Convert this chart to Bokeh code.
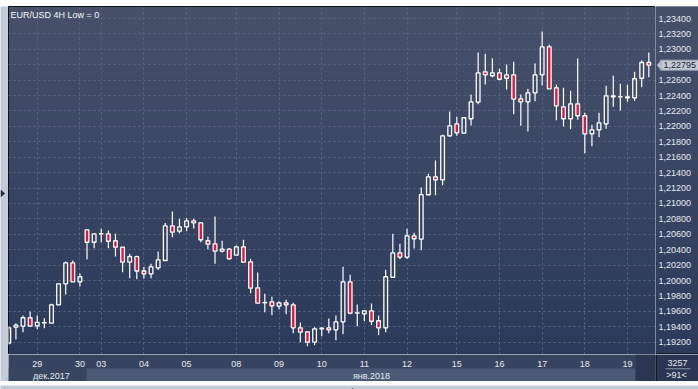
import numpy as np
from bokeh.plotting import figure
from bokeh.layouts import column, row
from bokeh.models import Range1d, FixedTicker, Grid, ColumnDataSource, Label, Span
from bokeh.core.properties import value
from bokeh.embed import file_html
from bokeh.resources import INLINE

# ---------------- data ----------------
title_text = "EUR/USD 4H Low = 0"

opens = [1.19187, 1.19395, 1.19408, 1.19517, 1.19413, 1.19450, 1.19447, 1.19685, 1.19958, 1.20230,
         1.19984, 1.20658, 1.20497, 1.20606, 1.20606, 1.20516, 1.20433, 1.20238, 1.20310, 1.20124,
         1.20087, 1.20165, 1.20260, 1.20710, 1.20640, 1.20697, 1.20775, 1.20749, 1.20516, 1.20477,
         1.20381, 1.20407, 1.20329, 1.20438, 1.20243, 1.19906, 1.19715, 1.19724, 1.19667, 1.19711,
         1.19685, 1.19387, 1.19335, 1.19200, 1.19374, 1.19387, 1.19361, 1.19465, 1.19984, 1.19576,
         1.19568, 1.19607, 1.19478, 1.19387, 1.20043, 1.20360, 1.20303, 1.20580, 1.20538, 1.21113,
         1.21346, 1.21307, 1.21878, 1.22034, 1.21912, 1.22099, 1.22314, 1.22708, 1.22657, 1.22695,
         1.22625, 1.22669, 1.22358, 1.22319, 1.22436, 1.22669, 1.23033, 1.22501, 1.22254, 1.22099,
         1.22293, 1.22138, 1.21904, 1.21956, 1.22034, 1.22384, 1.22384, 1.22371, 1.22371, 1.22625,
         1.22829]
highs = [1.19404, 1.19447, 1.19546, 1.19598, 1.19546, 1.19511, 1.19698, 1.19962, 1.20247, 1.20260,
         1.20091, 1.20660, 1.20610, 1.20671, 1.20649, 1.20606, 1.20435, 1.20347, 1.20321, 1.20176,
         1.20217, 1.20377, 1.20747, 1.20896, 1.20801, 1.20808, 1.20801, 1.20752, 1.20571, 1.20831,
         1.20516, 1.20420, 1.20455, 1.20529, 1.20282, 1.20104, 1.19828, 1.19789, 1.19732, 1.19750,
         1.19711, 1.19456, 1.19340, 1.19395, 1.19395, 1.19507, 1.19546, 1.20178, 1.20074, 1.19689,
         1.19610, 1.19702, 1.19546, 1.20139, 1.20606, 1.20477, 1.20671, 1.20619, 1.21207, 1.21385,
         1.21558, 1.21891, 1.22193, 1.22125, 1.22115, 1.22414, 1.22959, 1.22942, 1.22885, 1.22747,
         1.22803, 1.22838, 1.22414, 1.22488, 1.22816, 1.23231, 1.23059, 1.22540, 1.22501, 1.22462,
         1.22881, 1.22176, 1.22021, 1.22176, 1.22527, 1.22657, 1.22553, 1.22540, 1.22708, 1.22859,
         1.22959]
lows = [1.19170, 1.19235, 1.19330, 1.19400, 1.19369, 1.19382, 1.19445, 1.19682, 1.19819, 1.19982,
        1.19923, 1.20273, 1.20420, 1.20497, 1.20420, 1.20312, 1.20108, 1.20030, 1.20016, 1.20026,
        1.20030, 1.20137, 1.20255, 1.20562, 1.20614, 1.20640, 1.20675, 1.20497, 1.20407, 1.20217,
        1.20364, 1.20273, 1.20327, 1.20236, 1.19836, 1.19704, 1.19589, 1.19550, 1.19628, 1.19563,
        1.19317, 1.19200, 1.19148, 1.19161, 1.19278, 1.19317, 1.19226, 1.19304, 1.19563, 1.19408,
        1.19472, 1.19421, 1.19291, 1.19330, 1.20040, 1.20277, 1.20280, 1.20416, 1.20394, 1.21110,
        1.21107, 1.21237, 1.21865, 1.21878, 1.21905, 1.22012, 1.22288, 1.22544, 1.22638, 1.22599,
        1.22479, 1.22158, 1.22008, 1.21934, 1.22327, 1.22531, 1.22485, 1.22080, 1.21999, 1.21964,
        1.22086, 1.21652, 1.21743, 1.21860, 1.21969, 1.22254, 1.22202, 1.22319, 1.22332, 1.22509,
        1.22638]
closes = [1.19387, 1.19421, 1.19517, 1.19408, 1.19456, 1.19454, 1.19685, 1.19958, 1.20230, 1.19984,
          1.20049, 1.20497, 1.20606, 1.20610, 1.20510, 1.20433, 1.20238, 1.20312, 1.20124, 1.20087,
          1.20178, 1.20269, 1.20710, 1.20627, 1.20697, 1.20775, 1.20749, 1.20529, 1.20472, 1.20381,
          1.20407, 1.20282, 1.20438, 1.20238, 1.19901, 1.19706, 1.19712, 1.19672, 1.19711, 1.19685,
          1.19387, 1.19330, 1.19200, 1.19374, 1.19382, 1.19361, 1.19465, 1.19984, 1.19576, 1.19581,
          1.19607, 1.19472, 1.19387, 1.20049, 1.20360, 1.20305, 1.20580, 1.20542, 1.21114, 1.21346,
          1.21307, 1.21878, 1.22008, 1.21917, 1.22112, 1.22319, 1.22695, 1.22669, 1.22695, 1.22612,
          1.22669, 1.22353, 1.22319, 1.22436, 1.22669, 1.23033, 1.22488, 1.22267, 1.22099, 1.22293,
          1.22138, 1.21904, 1.21956, 1.22047, 1.22397, 1.22397, 1.22386, 1.22384, 1.22618, 1.22829,
          1.22795]

day_ticks = [4, 10, 13, 19, 25, 32, 38, 44, 50, 56, 63, 69, 75, 81, 87]
day_labels = ["29", "30", "03", "04", "05", "08", "09", "10", "11", "12", "15", "16", "17", "18", "19"]
month_centers = [6, 51]
month_labels = ["дек.2017", "янв.2018"]
price_ticks = [1.192, 1.194, 1.196, 1.198, 1.200, 1.202, 1.204, 1.206, 1.208, 1.210, 1.212,
               1.214, 1.216, 1.218, 1.220, 1.222, 1.224, 1.226, 1.228, 1.230, 1.232, 1.234]
price_labels = ["1,19200", "1,19400", "1,19600", "1,19800", "1,20000", "1,20200", "1,20400",
                "1,20600", "1,20800", "1,21000", "1,21200", "1,21400", "1,21600", "1,21800",
                "1,22000", "1,22200", "1,22400", "1,22600", "1,22800", "1,23000", "1,23200",
                "1,23400"]
bars_total = "3257"
bars_visible = ">91<"

# ---------------- style ----------------
FONT = "Liberation Sans"
FS = "9px"
TXT = "#e4e9f0"
TOP_RGB = (70, 81, 105)
BOT_RGB = (43, 58, 91)
FRAME_BG = "#c2cbd7"
DAY_BG = "#37445f"
DEC_BG = "#38455f"
JAN_BG = "#4c5a76"
BOX_BG = "#2b3752"
GRID = "#5a6682"
RED = "#e3163e"
ARROW = "#1f2b42"

PLOT_W, PLOT_H = 647, 348      # chart frame
PANEL_W = 43                   # price panel
FOOT_H = 27                    # date rows
LEFT_W, TOP_H, BOTTOM_H = 8, 6, 8

o = np.array(opens); h = np.array(highs); l = np.array(lows); c = np.array(closes)
idx = np.arange(len(o))
body_top = np.maximum(o, c)
body_bot = np.minimum(o, c)
up = c >= o

X0, X1 = -0.042, 90.94
Y0, Y1 = 1.190404, 1.235557
xr = Range1d(X0, X1)
yr = Range1d(Y0, Y1)
price_per_px = (Y1 - Y0) / PLOT_H


def grad_img(nrows, top_rgb, bot_rgb):
    t = np.linspace(0.0, 1.0, nrows)
    img = np.zeros((nrows, 1), dtype=np.uint32)
    v = img.view(dtype=np.uint8).reshape((nrows, 1, 4))
    for k in range(3):
        v[:, 0, k] = np.round(bot_rgb[k] + (top_rgb[k] - bot_rgb[k]) * t).astype(np.uint8)
    v[:, 0, 3] = 255
    return img


def base_fig(w, hgt, x_range, y_range, bg=DAY_BG):
    f = figure(width=w, height=hgt, x_range=x_range, y_range=y_range,
               output_backend="svg", toolbar_location=None,
               x_axis_location=None, y_axis_location=None, min_border=0)
    f.xgrid.visible = False
    f.ygrid.visible = False
    f.outline_line_color = None
    f.border_fill_color = bg
    f.background_fill_color = bg
    return f


grad = grad_img(PLOT_H, TOP_RGB, BOT_RGB)

# ---------------- main chart ----------------
p = base_fig(PLOT_W, PLOT_H, xr, yr)
p.outline_line_color = "black"
p.outline_line_width = 1
p.image_rgba(image=[grad], x=X0, y=Y0, dw=X1 - X0, dh=Y1 - Y0, level="image")

gkw = dict(grid_line_color=GRID, grid_line_dash="2 3", grid_line_width=1)
p.add_layout(Grid(dimension=0, ticker=FixedTicker(ticks=day_ticks), **gkw))
p.add_layout(Grid(dimension=1, ticker=FixedTicker(ticks=price_ticks), **gkw))

src = ColumnDataSource(dict(x=idx, top=body_top, bot=body_bot, h=h, l=l))
p.segment(x0="x", y0="h", x1="x", y1="top", source=src, line_color="white", line_width=1.2)
p.segment(x0="x", y0="bot", x1="x", y1="l", source=src, line_color="white", line_width=1.2)
up_src = ColumnDataSource(dict(x=idx[up], top=body_top[up], bot=body_bot[up]))
dn_src = ColumnDataSource(dict(x=idx[~up], top=body_top[~up], bot=body_bot[~up]))
p.vbar(x="x", top="top", bottom="bot", width=0.52, source=up_src,
       fill_color=None, line_color="white", line_width=1.3)
p.vbar(x="x", top="top", bottom="bot", width=0.52, source=dn_src,
       fill_color=RED, line_color="white", line_width=1.3)

p.add_layout(Label(x=2, y=PLOT_H - 8.5, x_units="screen", y_units="screen", text=title_text,
                   text_font=FONT, text_font_size=FS, text_color="#f3f5f8",
                   text_baseline="middle"))

# ---------------- price panel ----------------
pp = base_fig(PANEL_W, PLOT_H, Range1d(0, PANEL_W), yr)
pp.image_rgba(image=[grad], x=0, y=Y0, dw=PANEL_W, dh=Y1 - Y0, level="image")
pp.text(x=[0] * len(price_ticks), y=price_ticks, text=price_labels, x_offset=3,
        text_align="left", text_baseline="middle", text_font=value(FONT),
        text_font_size=FS, text_color=TXT)
last = closes[-1]
last_label = f"{last:.5f}".replace(".", ",")
half = 4.7 * price_per_px
pp.rect(x=[24], y=[last], width=38, height=10, height_units="screen",
        fill_color="#c4cbd6", line_color="#9aa3b3", line_width=1)
pp.patch(x=[1.7, 5.5, 5.5], y=[last, last + half, last - half],
         fill_color="#c4cbd6", line_color="#9aa3b3", line_width=1)
pp.text(x=[5], y=[last], text=[last_label], x_offset=3, text_align="left",
        text_baseline="middle", text_font=value(FONT), text_font_size=FS,
        text_color="#1b2130")
pp.add_layout(Span(location=Y0, dimension="width", line_color="black", line_width=2))

# ---------------- footer (dates) ----------------
fl = base_fig(PLOT_W, FOOT_H, xr, Range1d(0, FOOT_H))
fl.quad(left=[X0, 10.93], right=[10.93, 88.13], bottom=[0, 0], top=[13, 13],
        fill_color=[DEC_BG, JAN_BG], line_color=None)
fl.quad(left=[88.13], right=[X1], bottom=[0], top=[FOOT_H], fill_color=BOX_BG, line_color=None)
fl.text(x=day_ticks, y=[18] * len(day_ticks), text=day_labels, text_align="center",
        text_baseline="middle", text_font=value(FONT), text_font_size=FS, text_color=TXT)
fl.text(x=month_centers, y=[6] * len(month_centers), text=month_labels, text_align="center",
        text_baseline="middle", text_font=value(FONT), text_font_size=FS, text_color=TXT)

fr = base_fig(PANEL_W, FOOT_H, Range1d(0, PANEL_W), Range1d(0, FOOT_H), bg=BOX_BG)
fr.text(x=[22, 21], y=[19, 7], text=[bars_total, bars_visible], text_align="center",
        text_baseline="middle", text_font=value(FONT), text_font_size=FS, text_color=TXT)
fr.segment(x0=[10], y0=[12.7], x1=[35], y1=[12.7], line_color="#8e98aa", line_width=1)
fr.add_layout(Span(location=0, dimension="height", line_color="black", line_width=2))

# ---------------- window frame strips ----------------
TOTAL_W = LEFT_W + PLOT_W + PANEL_W
SIDE_H = PLOT_H + FOOT_H
top_strip = base_fig(TOTAL_W, TOP_H, Range1d(0, TOTAL_W), Range1d(0, TOP_H), bg=FRAME_BG)
top_strip.patch(x=[347.5, 355.5, 351.5], y=[5.5, 5.5, 1], fill_color=ARROW, line_color=None)

left_strip = base_fig(LEFT_W, SIDE_H, Range1d(0, LEFT_W), Range1d(0, SIDE_H), bg=FRAME_BG)
left_strip.patch(x=[0, 0, 4.5], y=[SIDE_H - 183, SIDE_H - 191, SIDE_H - 187],
                 fill_color=ARROW, line_color=None)

bottom_strip = base_fig(TOTAL_W, BOTTOM_H, Range1d(0, TOTAL_W), Range1d(0, BOTTOM_H), bg=FRAME_BG)
bottom_strip.patch(x=[348, 356, 352], y=[0, 0, 5.5], fill_color=ARROW, line_color=None)

layout = column(
    top_strip,
    row(left_strip, column(row(p, pp), row(fl, fr))),
    bottom_strip,
)
open("out.html", "w").write(file_html(layout, INLINE))
